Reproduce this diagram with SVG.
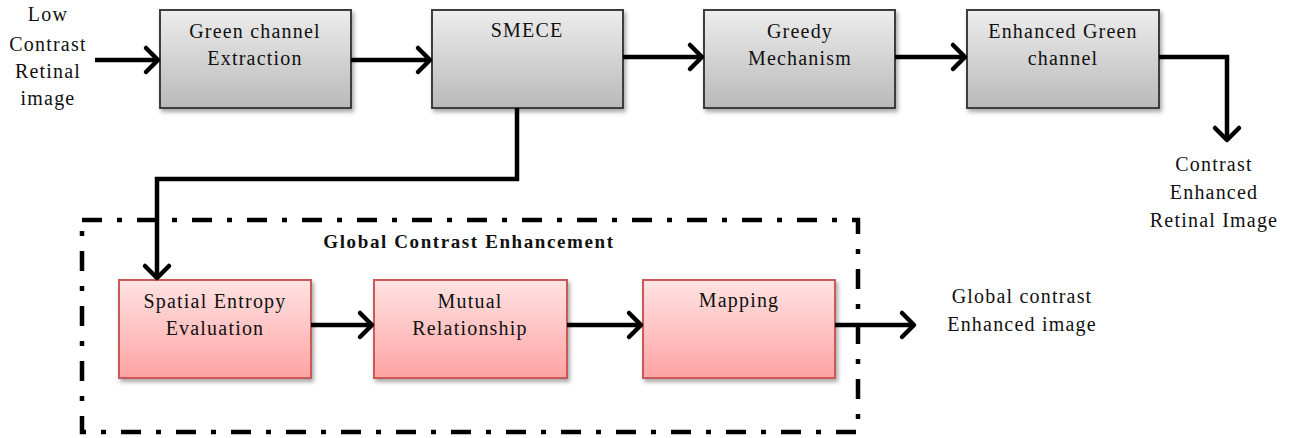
<svg xmlns="http://www.w3.org/2000/svg" width="1290" height="438" viewBox="0 0 1290 438">
<defs>
<linearGradient id="gGray" x1="0" y1="0" x2="0" y2="1">
<stop offset="0" stop-color="#ededed"/>
<stop offset="1" stop-color="#b9b9b9"/>
</linearGradient>
<linearGradient id="gPink" x1="0" y1="0" x2="0" y2="1">
<stop offset="0" stop-color="#ffe3e3"/>
<stop offset="1" stop-color="#ffa3a3"/>
</linearGradient>
<filter id="sh" x="-10%" y="-10%" width="125%" height="130%">
<feDropShadow dx="2" dy="3" stdDeviation="2" flood-color="#000" flood-opacity="0.35"/>
</filter>
<marker id="ah" viewBox="0 0 16 28" refX="14" refY="14" markerWidth="16" markerHeight="28" markerUnits="userSpaceOnUse" orient="auto" overflow="visible">
<path d="M2,2 L14,14 L2,26" fill="none" stroke="#000" stroke-width="4.5" stroke-linecap="round" stroke-linejoin="round"/>
</marker>
</defs>
<style>
.gray{fill:url(#gGray);stroke:#3c3c3c;stroke-width:2;filter:url(#sh)}
.pink{fill:url(#gPink);stroke:#c85a58;stroke-width:2;filter:url(#sh)}
.t{font-family:"Liberation Serif","Times New Roman",serif;font-size:20px;fill:#111;text-anchor:middle;letter-spacing:1.2px}
.tb{font-family:"Liberation Serif","Times New Roman",serif;font-size:19px;font-weight:bold;fill:#111;text-anchor:middle;letter-spacing:1.6px}
.c{fill:none;stroke:#000;stroke-width:4.5;stroke-linejoin:miter}
.dd{fill:none;stroke:#000;stroke-width:4.5;stroke-dasharray:20 15 5 15}
</style>
<rect id="gce-frame" class="dd" x="82" y="220" width="776" height="212"/>
<g id="n-green">
<rect class="gray" x="160" y="10" width="191" height="98"/>
<text class="t" x="255" y="38">Green channel</text>
<text class="t" x="255" y="65">Extraction</text>
</g>
<g id="n-smece">
<rect class="gray" x="432" y="10" width="191" height="98"/>
<text class="t" x="527" y="37">SMECE</text>
</g>
<g id="n-greedy">
<rect class="gray" x="704" y="10" width="191" height="98"/>
<text class="t" x="800" y="38">Greedy</text>
<text class="t" x="800" y="65">Mechanism</text>
</g>
<g id="n-enh">
<rect class="gray" x="967" y="10" width="192" height="98"/>
<text class="t" x="1063" y="38">Enhanced Green</text>
<text class="t" x="1063" y="65">channel</text>
</g>
<g id="n-spatial">
<rect class="pink" x="119" y="280" width="192" height="98"/>
<text class="t" x="215" y="308">Spatial Entropy</text>
<text class="t" x="215" y="335">Evaluation</text>
</g>
<g id="n-mutual">
<rect class="pink" x="374" y="280" width="193" height="98"/>
<text class="t" x="470" y="308">Mutual</text>
<text class="t" x="470" y="335">Relationship</text>
</g>
<g id="n-mapping">
<rect class="pink" x="643" y="280" width="192" height="98"/>
<text class="t" x="739" y="307">Mapping</text>
</g>
<g id="labels">
<text class="t" x="48" y="21">Low</text>
<text class="t" x="48" y="51">Contrast</text>
<text class="t" x="48" y="78">Retinal</text>
<text class="t" x="48" y="105">image</text>
<text class="t" x="1214" y="171">Contrast</text>
<text class="t" x="1214" y="199">Enhanced</text>
<text class="t" x="1214" y="227">Retinal Image</text>
<text class="t" x="1022" y="303">Global contrast</text>
<text class="t" x="1022" y="331">Enhanced image</text>
<text class="tb" x="469" y="248">Global Contrast Enhancement</text>
</g>
<g id="connectors">
<path class="c" d="M95,60 H158" marker-end="url(#ah)"/>
<path class="c" d="M351,60 H430" marker-end="url(#ah)"/>
<path class="c" d="M623,57 H702" marker-end="url(#ah)"/>
<path class="c" d="M895,57 H965" marker-end="url(#ah)"/>
<path class="c" d="M1159,57 H1227 V140" marker-end="url(#ah)"/>
<path class="c" d="M517,108 V179 H157 V278" marker-end="url(#ah)"/>
<path class="c" d="M311,325 H372" marker-end="url(#ah)"/>
<path class="c" d="M567,325 H641" marker-end="url(#ah)"/>
<path class="c" d="M835,325 H914" marker-end="url(#ah)"/>
</g>
</svg>
